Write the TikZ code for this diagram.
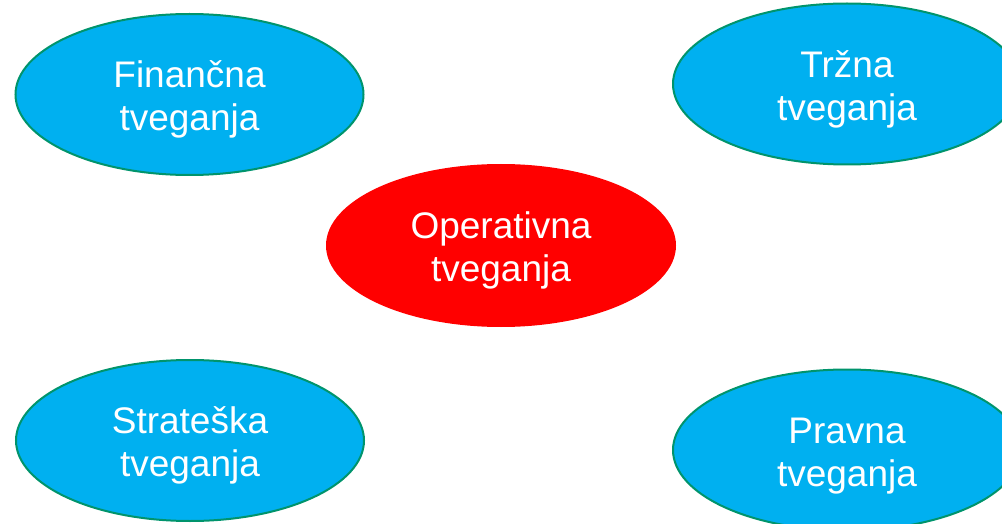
\documentclass[tikz,border=0pt]{standalone}
\usepackage{fontspec}
\setmainfont{Liberation Sans}
\usepackage{tikz}
\usetikzlibrary{shapes.geometric}
\usetikzlibrary{positioning}
\definecolor{riskblue}{RGB}{0,176,240}
\definecolor{riskedge}{RGB}{0,148,108}
\definecolor{riskred}{RGB}{255,0,0}

\begin{document}
\begin{tikzpicture}[x=1pt, y=1pt, risk/.style={draw=riskedge,line width=2pt,shape=ellipse,fill=riskblue,
		minimum width=348pt,minimum height=161pt,inner sep=0pt,text=white,align=center,
		text height=80pt,font=\fontsize{37}{43}\selectfont}, core/.style={risk,draw=none,fill=riskred,
		minimum width=350pt,minimum height=163pt}]
	\clip (0,0) rectangle (1002,523);
	\node[risk] (fin) at (189.5, 428.5) {Finančna\\tveganja};
	\node[risk] (trz) at (847, 439) {Tržna\\tveganja};
	\node[core] (oper) at (501, 277.5) {Operativna\\tveganja};
	\node[risk] (strat) at (190, 82.5) {Strateška\\tveganja};
	\node[risk] (prav) at (847, 73) {Pravna\\tveganja};
	\end{tikzpicture}
\end{document}
